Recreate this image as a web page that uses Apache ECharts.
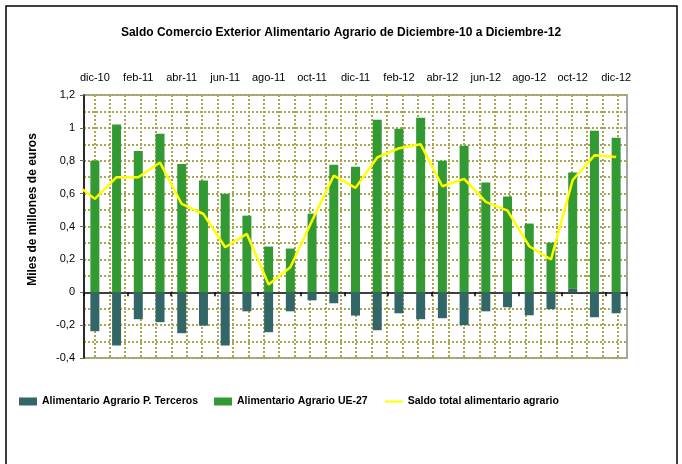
<!DOCTYPE html>
<html>
<head>
<meta charset="utf-8">
<script src="https://cdn.jsdelivr.net/npm/echarts@6/dist/echarts.min.js"></script>
<style>
  html, body { margin: 0; padding: 0; background: #fff; }
  #chart { width: 682px; height: 464px; }
</style>
</head>
<body>
<div id="chart"></div>
<script>
  // meses dic-10 .. dic-12
  const meses = ['dic-10', 'ene-11', 'feb-11', 'mar-11', 'abr-11', 'may-11', 'jun-11', 'jul-11', 'ago-11', 'sep-11', 'oct-11', 'nov-11', 'dic-11',
    'ene-12', 'feb-12', 'mar-12', 'abr-12', 'may-12', 'jun-12', 'jul-12', 'ago-12', 'sep-12', 'oct-12', 'nov-12', 'dic-12'];
  // miles de millones de euros
  const terceros = [-0.237, -0.324, -0.164, -0.182, -0.249, -0.203, -0.324, -0.116, -0.243, -0.116, -0.049, -0.067, -0.142,
    -0.231, -0.128, -0.164, -0.158, -0.200, -0.116, -0.091, -0.140, -0.103, 0.022, -0.152, -0.128];
  const ue27 = [0.800, 1.020, 0.860, 0.965, 0.780, 0.680, 0.600, 0.466, 0.278, 0.266, 0.478, 0.776, 0.764,
    1.050, 0.995, 1.062, 0.800, 0.892, 0.667, 0.582, 0.418, 0.302, 0.706, 0.983, 0.940];
  const saldo = [0.568, 0.700, 0.700, 0.789, 0.537, 0.476, 0.274, 0.355, 0.047, 0.152, 0.435, 0.710, 0.635,
    0.820, 0.876, 0.900, 0.645, 0.690, 0.550, 0.497, 0.280, 0.199, 0.683, 0.833, 0.823];
  // nov-10, solo se ve el trozo cortado en el borde izquierdo
  const saldoPrev = 0.67;

  const gridColor = '#aaa654';
  const dotted = { color: gridColor, width: 2, type: [2, 2] };

  const saldoData = [[-1, saldoPrev]].concat(saldo.map((v, i) => [i, v]));

  const chart = echarts.init(document.getElementById('chart'));
  chart.setOption({
    animation: false,
    textStyle: { fontFamily: 'Liberation Sans, Arial, sans-serif', color: '#000' },
    title: {
      text: 'Saldo Comercio Exterior Alimentario Agrario de Diciembre-10 a Diciembre-12',
      left: 'center',
      top: 22,
      textStyle: { fontSize: 12, fontWeight: 'bold', color: '#000' }
    },
    graphic: [{
      type: 'rect',
      shape: { x: 6, y: 6, width: 671, height: 500 },
      style: { fill: 'none', stroke: '#000', lineWidth: 1.5 },
      silent: true
    }],
    legend: {
      left: 14,
      top: 391,
      itemWidth: 18,
      itemHeight: 8,
      itemGap: 16,
      textStyle: { fontSize: 10.5, fontWeight: 'bold', color: '#000' },
      data: [
        { name: 'Alimentario Agrario P. Terceros', icon: 'rect' },
        { name: 'Alimentario Agrario UE-27', icon: 'rect' },
        { name: 'Saldo total alimentario agrario', itemStyle: { opacity: 0 } }
      ]
    },
    grid: [
      { left: 84, right: 55, top: 95, bottom: 106, show: true, borderColor: '#a6a6a6', borderWidth: 2, backgroundColor: 'transparent' },
      { left: 94.3, right: 64.1, top: 95, bottom: 106 }
    ],
    xAxis: [
      {
        type: 'category', gridIndex: 0, position: 'top', data: meses,
        axisLine: { show: false, onZero: false },
        axisTick: { show: false },
        axisLabel: { interval: 1, fontSize: 11, color: '#000', margin: 12 }
      },
      {
        type: 'category', gridIndex: 0, position: 'bottom', data: meses,
        axisLine: { onZero: true, lineStyle: { color: '#404040', width: 2 } },
        axisTick: { show: true, interval: 1, length: 4, lineStyle: { color: '#000', width: 1.5 } },
        axisLabel: { show: false }
      },
      {
        type: 'value', gridIndex: 1, min: 0, max: 34, interval: 1,
        axisLine: { show: false }, axisTick: { show: false }, axisLabel: { show: false },
        splitLine: { show: true, lineStyle: dotted }
      },
      { type: 'value', gridIndex: 0, min: -0.5, max: 24.5, show: false }
    ],
    yAxis: [
      {
        type: 'value', gridIndex: 0, min: -0.4, max: 1.2, interval: 0.2,
        name: 'Miles de millones de euros',
        nameLocation: 'middle',
        nameGap: 45,
        nameTextStyle: { fontSize: 12, fontWeight: 'bold', color: '#000', padding: [0, 0, 0, 34] },
        axisLine: { show: true, onZero: false, lineStyle: { color: '#000', width: 1.5 } },
        axisTick: { show: true, length: 4, lineStyle: { color: '#666' } },
        axisLabel: {
          fontSize: 11, color: '#000', margin: 9,
          formatter: v => String(+v.toFixed(1)).replace('.', ',')
        },
        splitLine: { show: true, lineStyle: dotted },
        minorTick: { show: false, splitNumber: 2 },
        minorSplitLine: { show: true, lineStyle: dotted }
      },
      { type: 'value', gridIndex: 1, min: 0, max: 1, show: false }
    ],
    series: [
      {
        name: 'Alimentario Agrario P. Terceros',
        type: 'bar', stack: 'total', xAxisIndex: 0, yAxisIndex: 0,
        barWidth: 9,
        itemStyle: { color: '#336666' },
        data: terceros
      },
      {
        name: 'Alimentario Agrario UE-27',
        type: 'bar', stack: 'total', xAxisIndex: 0, yAxisIndex: 0,
        barWidth: 9,
        itemStyle: { color: '#339933' },
        data: ue27
      },
      {
        name: 'Saldo total alimentario agrario',
        type: 'line', xAxisIndex: 3, yAxisIndex: 0,
        symbol: 'none',
        clip: true,
        lineStyle: { color: '#ffff00', width: 2.5 },
        itemStyle: { color: '#ffff00' },
        z: 5,
        data: saldoData
      }
    ]
  });
</script>
</body>
</html>
